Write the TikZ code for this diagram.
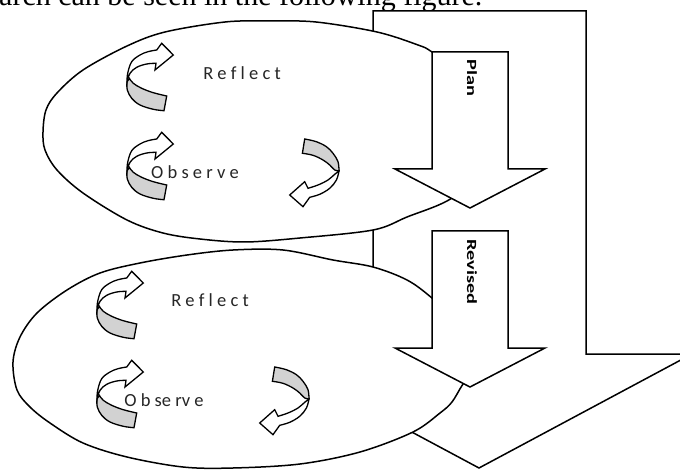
\documentclass[tikz,border=0pt]{standalone}
\usepackage{fontspec}
\setmainfont{Liberation Serif}
\newfontfamily\labelfont{Carlito}
\usepackage{graphicx}
\definecolor{backgray}{RGB}{210,210,210}
\begin{document}
\begin{tikzpicture}[x=1pt,y=-1pt,line join=miter,
  outline/.style={draw=black,line width=1.5pt,fill=white},
  band/.style={draw=black,line width=1.3pt},
  lbl/.style={inner sep=0pt,font=\labelfont\fontsize{18.5}{20}\selectfont,text=black!85},
  vlbl/.style={inner sep=0pt,rotate=-90,font=\labelfont\bfseries\fontsize{14}{16}\selectfont},
  % curled block arrow opening to the right, head pointing right
  curlC/.pic={
    \draw[band,fill=backgray] plot[smooth,tension=0.6] coordinates {(0,0) (0.3,8) (4.7,16.3) (13,23) (26.3,27.3) (37,28.7)}
      -- (39.7,14) -- plot[smooth,tension=0.6] coordinates {(39.7,14) (26.3,10.7) (14.7,6.3) (6.3,1.3) (2.3,-3.7)} -- cycle;
    \draw[band,fill=white] plot[smooth,tension=0.6] coordinates {(0,0) (0.7,-8.7) (4.7,-20.3) (13,-27) (21,-30.3) (29.7,-32)}
      -- (34.7,-38.7) -- (46.3,-27) -- (28,-12)
      -- plot[smooth,tension=0.6] coordinates {(29,-18.7) (19.7,-18) (9.7,-14.7) (3,-8.7) (0,0)} -- cycle;
  },
  % curled block arrow opening to the left, head pointing left
  curlD/.pic={
    \draw[band,fill=backgray] (-34.3,-32) -- plot[smooth,tension=0.6] coordinates {(-34.3,-32) (-22.6,-29.3) (-12.6,-24.3) (-6,-17.7) (-1,-9.3) (0,0)}
      -- plot[smooth,tension=0.6] coordinates {(0,0) (-4.3,-1) (-9.3,-6) (-16,-11) (-26,-15.7) (-36.6,-17.7)} -- cycle;
    \draw[band,fill=white] plot[smooth,tension=0.6] coordinates {(0,0) (-2.6,9) (-9.3,17.3) (-19.3,23.3) (-29.3,26.3)}
      -- (-36,35.7) -- (-49.3,24) -- (-34.3,10.7)
      -- plot[smooth,tension=0.6] coordinates {(-31,17.3) (-21,14) (-11,9) (-4.3,3.3) (0,0)} -- cycle;
  }]
\useasboundingbox (0,0) rectangle (680,470);
\clip (0,0) rectangle (680,470);

% running text above the figure
\node[anchor=base west,inner sep=0pt,font=\fontsize{30}{36}\selectfont] (caption) at (-1,6)
  {arch can be seen in the following figure.};

% large downward arrow behind the cycles
\draw[outline] (373,11) -- (586,11) -- (586,354) -- (692,354) -- (479,468) -- (266,354) -- (373,354) -- cycle;

% upper cycle
\draw[outline] plot[smooth cycle,tension=0.55] coordinates {
  (43,132) (46,110) (57,93) (83,70) (127,46) (165,32) (225,22) (268,21) (316,22) (377,32)
  (418,45) (432,52) (468,78) (490,120) (484,165) (452,198) (407,217) (373,230) (300,238)
  (245,242) (200,239) (163,233) (127,220) (83,193) (57,170) (45,150)};

% lower cycle
\draw[outline] plot[smooth cycle,tension=0.55] coordinates {
  (13,362) (20,337) (37,313) (67,290) (100,273) (140,263) (187,255) (233,250) (283,250)
  (333,260) (373,267) (407,280) (432,298) (468,330) (480,360) (463,384) (452,402) (440,413)
  (413,432) (360,452) (300,464) (233,468) (183,467) (127,457) (83,443) (50,423) (30,407) (17,390)};

% Plan and Revised arrows
\draw[outline] (432,52) -- (508,52) -- (508,169) -- (545,169) -- (470,208) -- (395,169) -- (432,169) -- cycle;
\draw[outline] (432,231) -- (508,231) -- (508,348) -- (545,348) -- (470,387) -- (395,348) -- (432,348) -- cycle;
\node[vlbl] (plan) at (472,78) {\scalebox{1.45}[1]{Plan}};
\node[vlbl] (revised) at (472,272) {\scalebox{1.45}[1]{Revised}};

% curled arrows
\pic at (127,82) {curlC};
\pic at (127,171) {curlC};
\pic at (339,171) {curlD};
\pic at (97,310) {curlC};
\pic at (97,399) {curlC};
\pic at (309,399) {curlD};

% cycle labels
\node[lbl] (reflectA) at (242,73) {R e f l e c t};
\node[lbl] (observeA) at (195,172) {O b s e r v e};
\node[lbl] (reflectB) at (210,300) {R e f l e c t};
\node[lbl] (observeB) at (164,400) {O b se rv e};
\end{tikzpicture}
\end{document}
